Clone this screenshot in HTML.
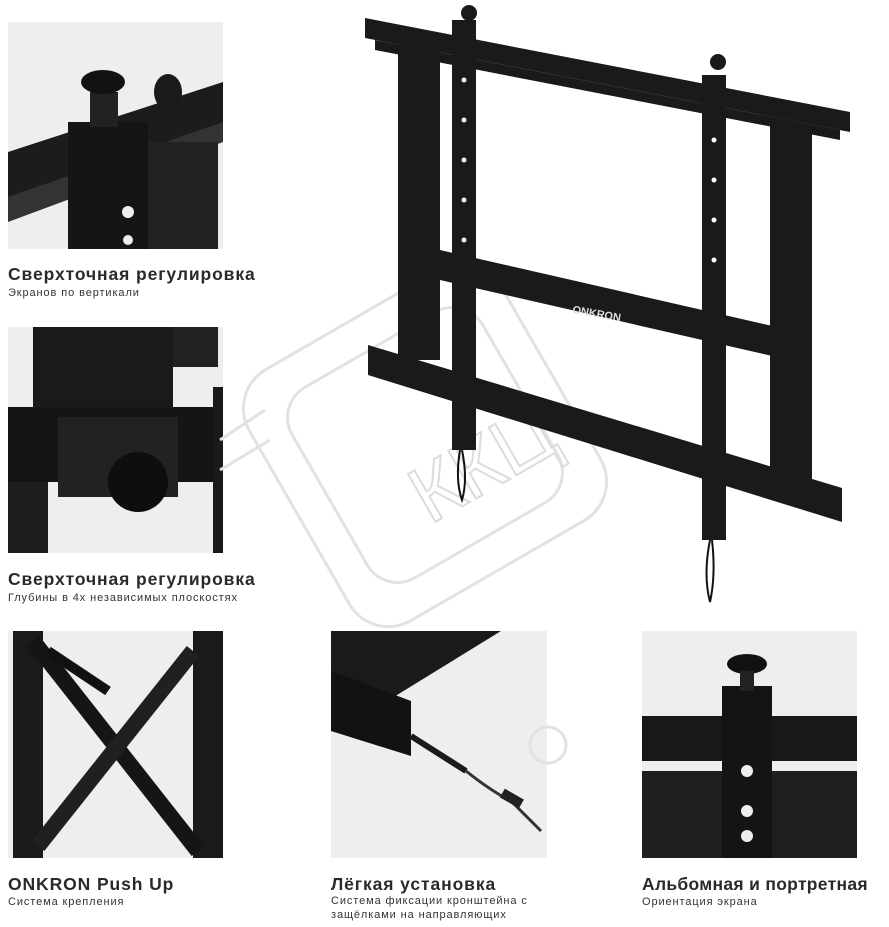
<!DOCTYPE html>
<html><head><meta charset="utf-8"><style>
body{margin:0;background:#fff;width:889px;height:927px;position:relative;overflow:hidden;font-family:"Liberation Sans",sans-serif;color:#2a2a2a}
.ph{position:absolute;background:#eeeeee;overflow:hidden}
.t{position:absolute;font-size:17.5px;font-weight:bold;letter-spacing:0.9px;white-space:nowrap}
.s{position:absolute;font-size:11px;color:#333;line-height:14px;letter-spacing:0.9px;white-space:nowrap}
</style></head><body>

<div class="ph" style="left:8px;top:22px;width:215px;height:227px">
<svg width="215" height="227">
<polygon points="0,130 215,60 215,110 0,190" fill="#1c1c1c"/>
<polygon points="0,175 215,100 215,120 0,200" fill="#333"/>
<rect x="60" y="100" width="80" height="127" fill="#151515"/>
<rect x="140" y="120" width="70" height="107" fill="#222"/>
<rect x="82" y="70" width="28" height="35" fill="#222"/>
<ellipse cx="95" cy="60" rx="22" ry="12" fill="#111"/>
<ellipse cx="160" cy="70" rx="14" ry="18" fill="#1a1a1a"/>
<circle cx="120" cy="190" r="6" fill="#eee"/><circle cx="120" cy="218" r="5" fill="#eee"/>
</svg></div>
<div class="t" style="left:8px;top:264px">Сверхточная регулировка</div>
<div class="s" style="left:8px;top:286px">Экранов по вертикали</div>

<div class="ph" style="left:8px;top:327px;width:215px;height:226px">
<svg width="215" height="226">
<rect x="25" y="0" width="140" height="90" fill="#1a1a1a"/>
<rect x="165" y="0" width="45" height="40" fill="#222"/>
<rect x="0" y="80" width="215" height="75" fill="#151515"/>
<rect x="50" y="90" width="120" height="80" fill="#222"/>
<rect x="0" y="155" width="40" height="71" fill="#1e1e1e"/>
<circle cx="130" cy="155" r="30" fill="#0e0e0e"/>
<rect x="205" y="60" width="10" height="166" fill="#1a1a1a"/>
</svg></div>
<div class="t" style="left:8px;top:569px">Сверхточная регулировка</div>
<div class="s" style="left:8px;top:591px">Глубины в 4х независимых плоскостях</div>

<div class="ph" style="left:8px;top:631px;width:215px;height:227px">
<svg width="215" height="227">
<rect x="5" y="0" width="30" height="227" fill="#1a1a1a"/>
<rect x="185" y="0" width="30" height="227" fill="#1a1a1a"/>
<line x1="25" y1="10" x2="190" y2="220" stroke="#151515" stroke-width="16"/>
<line x1="185" y1="20" x2="30" y2="215" stroke="#202020" stroke-width="16"/>
<line x1="40" y1="20" x2="100" y2="60" stroke="#111" stroke-width="10"/>
</svg></div>
<div class="t" style="left:8px;top:874px">ONKRON Push Up</div>
<div class="s" style="left:8px;top:895px">Система крепления</div>

<div class="ph" style="left:331px;top:631px;width:216px;height:227px">
<svg width="216" height="227">
<polygon points="0,0 170,0 40,80 0,70" fill="#1a1a1a"/>
<polygon points="0,40 80,70 80,125 0,100" fill="#121212"/>
<line x1="80" y1="105" x2="135" y2="140" stroke="#1a1a1a" stroke-width="6"/>
<path d="M135 140 Q160 160 180 170 L210 200" stroke="#333" stroke-width="3" fill="none"/>
<rect x="170" y="162" width="22" height="10" fill="#222" transform="rotate(30 180 167)"/>
</svg></div>
<div class="t" style="left:331px;top:874px">Лёгкая установка</div>
<div class="s" style="left:331px;top:894px">Система фиксации кронштейна с<br>защёлками на направляющих</div>

<div class="ph" style="left:642px;top:631px;width:215px;height:227px">
<svg width="215" height="227">
<rect x="0" y="85" width="215" height="45" fill="#181818"/>
<rect x="0" y="140" width="215" height="87" fill="#1f1f1f"/>
<rect x="80" y="55" width="50" height="172" fill="#141414"/>
<ellipse cx="105" cy="33" rx="20" ry="10" fill="#111"/>
<rect x="98" y="40" width="14" height="20" fill="#222"/>
<circle cx="105" cy="140" r="6" fill="#eee"/><circle cx="105" cy="180" r="6" fill="#eee"/><circle cx="105" cy="205" r="6" fill="#eee"/>
</svg></div>
<div class="t" style="left:642px;top:874px;letter-spacing:0.3px">Альбомная и портретная</div>
<div class="s" style="left:642px;top:895px">Ориентация экрана</div>

<svg style="position:absolute;left:0;top:0" width="889" height="927">
<g fill="none" stroke="#e2e2e2" stroke-width="3">
<rect x="280" y="300" width="290" height="290" rx="45" transform="rotate(-30 425 445)"/>
<rect x="315" y="335" width="220" height="220" rx="35" transform="rotate(-30 425 445)"/>
<circle cx="548" cy="745" r="18"/>
<line x1="220" y1="440" x2="265" y2="410"/><line x1="220" y1="470" x2="270" y2="440"/>
</g>
<text x="395" y="505" font-size="80" fill="none" stroke="#dcdcdc" stroke-width="2" transform="rotate(-30 450 450)" font-family="Liberation Sans">ККЦ</text>
<g fill="#1a1a1a">
<polygon points="365,18 850,112 850,132 365,38"/>
<polygon points="375,40 840,130 840,140 375,50"/>
<polygon points="368,345 842,488 842,522 368,375"/>
<rect x="398" y="40" width="42" height="320"/>
<rect x="770" y="125" width="42" height="355"/>
<polygon points="440,250 790,330 790,360 440,280"/>
<rect x="452" y="20" width="24" height="430"/>
<rect x="702" y="75" width="24" height="465"/>
<circle cx="469" cy="13" r="8"/><circle cx="718" cy="62" r="8"/>
</g>
<g fill="#fff"><circle cx="464" cy="80" r="2.5"/><circle cx="464" cy="120" r="2.5"/><circle cx="464" cy="160" r="2.5"/><circle cx="464" cy="200" r="2.5"/><circle cx="464" cy="240" r="2.5"/>
<circle cx="714" cy="140" r="2.5"/><circle cx="714" cy="180" r="2.5"/><circle cx="714" cy="220" r="2.5"/><circle cx="714" cy="260" r="2.5"/></g>
<text x="572" y="313" font-size="11" fill="#ddd" font-weight="bold" transform="rotate(10 572 313)">ONKRON</text>
<path d="M460 450 Q455 480 462 500 Q468 480 462 450" stroke="#111" stroke-width="2" fill="none"/>
<path d="M710 540 Q703 575 710 602 Q716 575 712 540" stroke="#111" stroke-width="2" fill="none"/>
</svg>
</body></html>
